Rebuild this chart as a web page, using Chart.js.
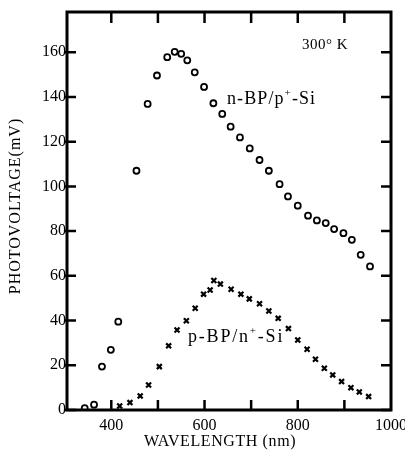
<!DOCTYPE html>
<html><head><meta charset="utf-8">
<script src="https://cdn.jsdelivr.net/npm/chart.js@4"></script>
<style>html,body{margin:0;padding:0;background:#fff}</style>
</head><body>
<canvas id="c" width="405" height="462"></canvas>
<script>
// n-BP/p+-Si (open circles)
const nWavelength = [343, 363, 380, 399, 415, 454, 478, 498, 520, 536, 550, 563, 579, 599, 619, 638, 656, 676, 697, 718, 738, 761, 779, 800, 822, 841, 860, 878, 898, 916, 935, 955];
const nVoltage    = [0.8, 2.4, 19.4, 26.9, 39.5, 107, 136.9, 149.6, 157.8, 160.2, 159.3, 156.4, 151, 144.5, 137.2, 132.4, 126.7, 121.9, 117, 111.8, 107, 101, 95.5, 91.4, 86.9, 84.8, 83.6, 80.9, 79.1, 76.1, 69.4, 64.2];
// p-BP/n+-Si (crosses)
const pWavelength = [418, 440, 462, 480, 503, 523, 541, 561, 580, 598, 612, 620, 634, 657, 678, 696, 718, 738, 758, 780, 800, 820, 838, 857, 875, 894, 914, 932, 952];
const pVoltage    = [1.8, 3.3, 6.3, 11.2, 19.4, 28.7, 35.8, 39.9, 45.5, 51.8, 53.7, 57.9, 56.3, 54, 51.8, 49.7, 47.5, 44.3, 41, 36.4, 31.3, 27.2, 22.7, 18.7, 15.7, 12.7, 10, 8.1, 6];

const xTickLabels = [400, 600, 800, 1000];
const xTickMarks  = [400, 500, 600, 700, 800, 900];
const yTickLabels = [0, 20, 40, 60, 80, 100, 120, 140, 160];
const xRange = [305, 1000];
const yRange = [0, 178];

const SERIF = '"Liberation Serif", "DejaVu Serif", serif';

const framePlugin = {
  id: 'frame',
  afterDraw(chart) {
    const {ctx, chartArea: a, scales: {x, y}} = chart;
    ctx.save();
    ctx.strokeStyle = '#000';
    ctx.lineWidth = 3;
    ctx.strokeRect(a.left, a.top, a.right - a.left, a.bottom - a.top);
    ctx.lineWidth = 2.5;
    ctx.beginPath();
    xTickMarks.forEach(v => {
      const px = x.getPixelForValue(v);
      ctx.moveTo(px, a.bottom); ctx.lineTo(px, a.bottom - 10);
      ctx.moveTo(px, a.top); ctx.lineTo(px, a.top + 11);
    });
    yTickLabels.forEach(v => {
      const py = y.getPixelForValue(v);
      ctx.moveTo(a.left - 3, py); ctx.lineTo(a.left + 9, py);
      ctx.moveTo(a.right, py); ctx.lineTo(a.right - 10, py);
    });
    ctx.stroke();

    ctx.fillStyle = '#000';
    ctx.textBaseline = 'middle';
    // axis titles
    ctx.font = '16px ' + SERIF;
    ctx.textAlign = 'center';
    ctx.letterSpacing = '0.6px';
    ctx.fillText('WAVELENGTH (nm)', 220, 442);
    ctx.save();
    ctx.translate(15.5, 206);
    ctx.rotate(-Math.PI / 2);
    ctx.letterSpacing = '1px';
    ctx.fillText('PHOTOVOLTAGE(mV)', 0, 0);
    ctx.restore();

    // annotations
    ctx.textAlign = 'left';
    ctx.letterSpacing = '0.5px';
    ctx.font = '15px ' + SERIF;
    ctx.fillText('300° K', 302, 45);

    function label(parts, x0, y0, sp) {
      let cx = x0;
      ctx.letterSpacing = sp + 'px';
      parts.forEach(([t, sup]) => {
        ctx.font = (sup ? '11px ' : '18px ') + SERIF;
        ctx.fillText(t, cx, sup ? y0 - 6 : y0);
        cx += ctx.measureText(t).width;
      });
    }
    label([['n-BP/p', false], ['+', true], ['-Si', false]], 227, 99, 1.1);
    label([['p-BP/n', false], ['+', true], ['-Si', false]], 188, 337, 1.8);
    ctx.restore();
  }
};

new Chart(document.getElementById('c'), {
  type: 'scatter',
  data: {
    datasets: [
      {
        label: 'n-BP/p+-Si',
        data: nWavelength.map((w, i) => ({x: w, y: nVoltage[i]})),
        pointStyle: 'circle',
        radius: 3,
        borderWidth: 1.8,
        borderColor: '#000',
        backgroundColor: '#fff'
      },
      {
        label: 'p-BP/n+-Si',
        data: pWavelength.map((w, i) => ({x: w, y: pVoltage[i]})),
        pointStyle: 'crossRot',
        radius: 3.5,
        borderWidth: 2.2,
        borderColor: '#000',
        backgroundColor: '#000'
      }
    ]
  },
  options: {
    responsive: false,
    animation: false,
    devicePixelRatio: 1,
    layout: {padding: {top: 12, right: 14, left: 0, bottom: 0}},
    plugins: {legend: {display: false}, tooltip: {enabled: false}},
    scales: {
      x: {
        type: 'linear',
        min: xRange[0], max: xRange[1],
        afterBuildTicks: s => { s.ticks = xTickLabels.map(v => ({value: v})); },
        afterFit: s => { s.height = 52; s.paddingLeft = 0; s.paddingRight = 0; },
        grid: {display: false, drawTicks: false},
        border: {display: false},
        ticks: {color: '#000', font: {family: SERIF, size: 16}, padding: 6, maxRotation: 0, autoSkip: false,
                callback: v => String(v)}
      },
      y: {
        min: yRange[0], max: yRange[1],
        afterBuildTicks: s => { s.ticks = yTickLabels.map(v => ({value: v})); },
        afterFit: s => { s.width = 67; s.paddingTop = 0; s.paddingBottom = 0; },
        grid: {display: false, drawTicks: false},
        border: {display: false},
        ticks: {color: '#000', font: {family: SERIF, size: 16}, padding: 1,
                callback: v => String(v)}
      }
    }
  },
  plugins: [framePlugin]
});
</script>
</body></html>
